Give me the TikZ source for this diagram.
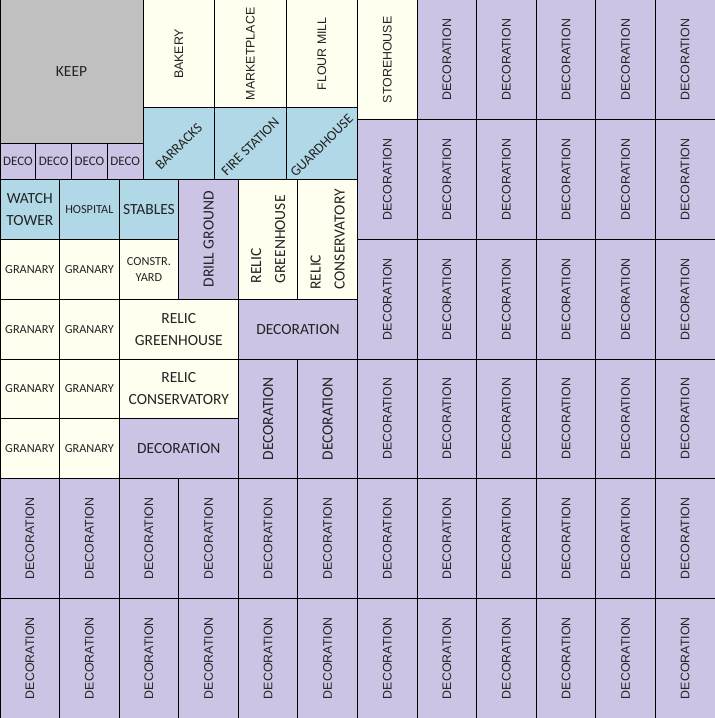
\documentclass[tikz,border=0pt]{standalone}
\usepackage{fontspec}
\newfontfamily\calfont{Carlito}
\newfontfamily\arfont{Liberation Sans}
\begin{document}
\begin{tikzpicture}[x={(59.583pt,0pt)},y={(0pt,-59.833pt)},
  every node/.style={draw=black, line width=1pt, inner sep=1pt, outer sep=0pt, align=center, text={rgb,255:red,35;green,35;blue,35}},
  box/.style 2 args={minimum width=#1*59.583pt, minimum height=#2*59.833pt},
  vbox/.style 2 args={rotate=90, minimum width=#2*59.833pt, minimum height=#1*59.583pt},
  keepcol/.style={fill={rgb,255:red,192;green,192;blue,192}},
  creamcol/.style={fill={rgb,255:red,255;green,255;blue,240}},
  bluecol/.style={fill={rgb,255:red,176;green,216;blue,230}},
  decocol/.style={fill={rgb,255:red,204;green,196;blue,228}},
  bigtxt/.style={font=\calfont\fontsize{15.5}{22}\selectfont},
  smalltxt/.style={font=\calfont\fontsize{12.3}{16}\selectfont},
  armtxt/.style={font=\arfont\fontsize{12.4}{15}\selectfont},
  slanted/.style={draw=none, rotate=45, font=\calfont\fontsize{14}{17}\selectfont}]
\useasboundingbox (0,0) rectangle (12,12);
% keep and the buildings along the top
\node[box={2.4}{2.4}, keepcol, bigtxt] (keep) at (1.2,1.2) {KEEP};
\node[vbox={1.2}{1.8}, creamcol, armtxt] (bakery) at (3,0.9) {BAKERY};
\node[vbox={1.2}{1.8}, creamcol, armtxt] (market) at (4.2,0.9) {MARKETPLACE};
\node[vbox={1.2}{1.8}, creamcol, armtxt] (mill) at (5.4,0.9) {FLOUR MILL};
\node[box={1.2}{1.2}, bluecol] (barracks) at (3,2.4) {};
\node[box={1.2}{1.2}, bluecol] (firest) at (4.2,2.4) {};
\node[box={1.2}{1.2}, bluecol] (guard) at (5.4,2.4) {};
\node[slanted] (barracks-lbl) at ([yshift=-3pt]barracks.center) {BARRACKS};
\node[slanted] (firest-lbl) at ([yshift=-3pt]firest.center) {FIRE STATION};
\node[slanted] (guard-lbl) at ([yshift=-2pt]guard.center) {GUARDHOUSE};
\foreach \i in {0,...,3}
  \node[box={0.6}{0.6}, decocol, font=\calfont\fontsize{13}{15}\selectfont] (small-\i) at (0.3+0.6*\i,2.7) {DECO};
\node[vbox={1}{2}, creamcol, armtxt] (store) at (6.5,1) {STOREHOUSE};
% middle block
\node[box={1}{1}, bluecol, bigtxt] (tower) at (0.5,3.5) {WATCH\\TOWER};
\node[box={1}{1}, bluecol, smalltxt] (hospital) at (1.5,3.5) {HOSPITAL};
\node[box={1}{1}, bluecol, bigtxt] (stables) at (2.5,3.5) {STABLES};
\node[vbox={1}{2}, decocol, bigtxt] (drill) at (3.5,4) {DRILL GROUND};
\node[vbox={1}{2}, creamcol, font=\calfont\fontsize{15.5}{24}\selectfont, align=left] (green-v) at (4.5,4) {RELIC\\GREENHOUSE};
\node[vbox={1}{2}, creamcol, font=\calfont\fontsize{15.5}{24}\selectfont, align=left] (conserv-v) at (5.5,4) {RELIC\\CONSERVATORY};
\foreach \r in {4,...,7} {
  \node[box={1}{1}, creamcol, smalltxt] (gran-a-\r) at (0.5,\r+0.5) {GRANARY};
  \node[box={1}{1}, creamcol, smalltxt] (gran-b-\r) at (1.5,\r+0.5) {GRANARY};
}
\node[box={1}{1}, creamcol, smalltxt] (yard) at (2.5,4.5) {CONSTR.\\YARD};
\node[box={2}{1}, creamcol, bigtxt] (green-h) at (3,5.5) {RELIC\\GREENHOUSE};
\node[box={2}{1}, decocol, bigtxt] (deco-h1) at (5,5.5) {DECORATION};
\node[box={2}{1}, creamcol, bigtxt] (conserv-h) at (3,6.5) {RELIC\\CONSERVATORY};
\node[box={2}{1}, decocol, bigtxt] (deco-h2) at (3,7.5) {DECORATION};
\node[vbox={1}{2}, decocol, bigtxt] (deco-v1) at (4.5,7) {DECORATION};
\node[vbox={1}{2}, decocol, bigtxt] (deco-v2) at (5.5,7) {DECORATION};
% decoration fields
\foreach \r in {2,4,...,10}
  \node[vbox={1}{2}, decocol, armtxt] (deco-6-\r) at (6.5,\r+1) {DECORATION};
\foreach \c in {7,...,11}
  \foreach \r in {0,2,...,10}
    \node[vbox={1}{2}, decocol, armtxt] (deco-\c-\r) at (\c+0.5,\r+1) {DECORATION};
\foreach \c in {0,...,5}
  \foreach \r in {8,10}
    \node[vbox={1}{2}, decocol, armtxt] (deco-\c-\r) at (\c+0.5,\r+1) {DECORATION};
\end{tikzpicture}
\end{document}
